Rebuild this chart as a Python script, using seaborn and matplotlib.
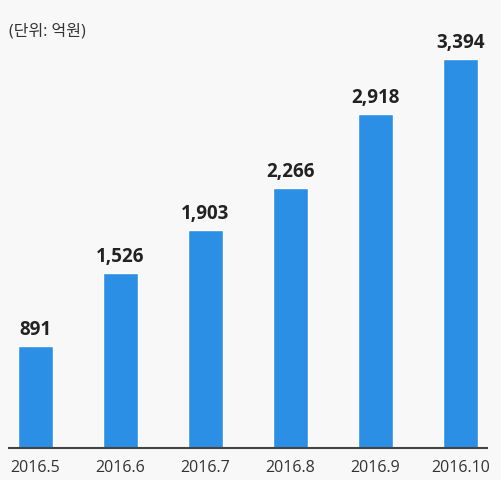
import pandas as pd
import matplotlib
matplotlib.use('Agg')
import matplotlib.pyplot as plt
import seaborn as sns

# monthly values (unit: 억원)
months = ['2016.5', '2016.6', '2016.7', '2016.8', '2016.9', '2016.10']
values = [891, 1526, 1903, 2266, 2918, 3394]
unit_label = '(단위: 억원)'

df = pd.DataFrame({'month': months, 'value': values})

sns.set_style('white')
plt.rcParams['font.family'] = ['Open Sans', 'Noto Sans CJK KR', 'DejaVu Sans']

bg = '#f8f8f8'
fig = plt.figure(figsize=(5.01, 4.81), dpi=100, facecolor=bg)
ax = fig.add_axes([9 / 501, 32 / 481, 478 / 501, 429 / 481])
ax.set_facecolor(bg)

sns.barplot(data=df, x='month', y='value', color='#2b8fe5', saturation=1,
            width=0.41, ax=ax)

ax.set_xlim(-0.31, 5.31)
ax.set_ylim(0, 3394 * 429 / 389)

for i, v in enumerate(values):
    ax.annotate(f'{v:,}', (i, v), xytext=(0, 5), textcoords='offset points',
                ha='center', va='bottom', fontsize=13.5, fontweight='bold',
                color='#222222')

for s in ['top', 'right', 'left']:
    ax.spines[s].set_visible(False)
ax.spines['bottom'].set_color('#444444')
ax.spines['bottom'].set_linewidth(1.5)
ax.set_yticks([])
ax.set_xlabel('')
ax.set_ylabel('')
ax.tick_params(axis='x', length=0, pad=8, labelsize=11.5, labelcolor='#333333')

fig.text(9 / 501, 1 - 31 / 481, unit_label, fontsize=11.5, color='#333333',
         va='center', ha='left')

fig.savefig('out.png', dpi=100, facecolor=bg)
